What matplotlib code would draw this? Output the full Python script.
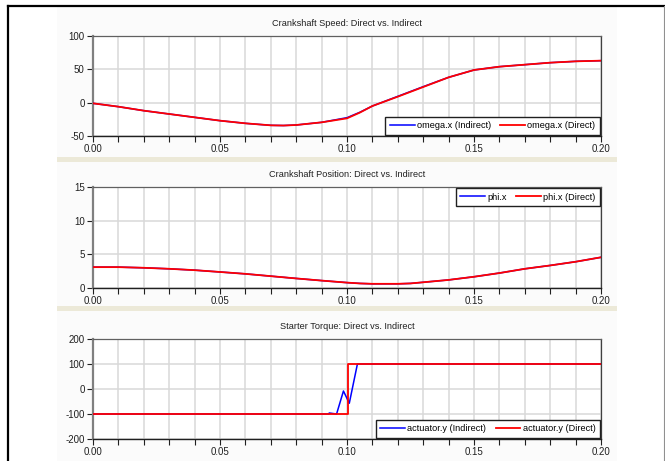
import matplotlib
matplotlib.use("Agg")
import matplotlib.pyplot as plt
from matplotlib.patches import Rectangle
from matplotlib.lines import Line2D
import numpy as np

plt.rcParams['font.family'] = ['Liberation Sans', 'DejaVu Sans']
plt.rcParams['axes.unicode_minus'] = False

# ---------------- data ----------------
t_speed = [0.0, 0.01, 0.02, 0.03, 0.04, 0.05, 0.06, 0.07, 0.075, 0.08, 0.09, 0.10,
           0.105, 0.11, 0.12, 0.13, 0.14, 0.15, 0.16, 0.17, 0.18, 0.19, 0.20]
omega_direct = [-1, -6, -12, -17, -22, -27, -31, -34, -34.3, -33.5, -29.5, -23.5,
                -15, -5, 9, 23.5, 38, 49, 54, 57, 60, 62, 63]
omega_indirect = [-1, -6, -12, -17, -22, -27, -31, -34, -34.3, -33.5, -29.5, -22.5,
                  -14.5, -5, 9.5, 24, 38, 49, 54, 57, 60, 62, 63]

t_pos = [0.0, 0.01, 0.02, 0.03, 0.04, 0.05, 0.06, 0.07, 0.08, 0.09, 0.10, 0.105,
         0.11, 0.12, 0.125, 0.13, 0.14, 0.15, 0.16, 0.17, 0.18, 0.19, 0.20]
phi_direct = [3.1, 3.1, 3.0, 2.85, 2.65, 2.38, 2.1, 1.76, 1.42, 1.1, 0.8, 0.68,
              0.62, 0.62, 0.68, 0.85, 1.2, 1.67, 2.22, 2.85, 3.35, 3.9, 4.56]
phi_indirect = phi_direct

t_torque_direct = [0.0, 0.1003, 0.1003, 0.20]
torque_direct = [-100, -100, 100, 100]
t_torque_indirect = [0.0, 0.0929, 0.093, 0.0959, 0.0986, 0.1009, 0.1041, 0.20]
torque_indirect = [-100, -100, -96, -100, -8, -57, 100, 100]

xticks_major = [0.0, 0.05, 0.10, 0.15, 0.20]
xtick_labels = ["0.00", "0.05", "0.10", "0.15", "0.20"]

titles = ["Crankshaft Speed: Direct vs. Indirect",
          "Crankshaft Position: Direct vs. Indirect",
          "Starter Torque: Direct vs. Indirect"]
yticks = [[-50, 0, 50, 100], [0, 5, 10, 15], [-200, -100, 0, 100, 200]]
ylims = [(-50, 100), (0, 15), (-200, 200)]
labels = [("omega.x (Indirect)", "omega.x (Direct)"),
          ("phi.x", "phi.x (Direct)"),
          ("actuator.y (Indirect)", "actuator.y (Direct)")]

# ---------------- figure ----------------
W, H = 665, 461
fig = plt.figure(figsize=(W / 100, H / 100), dpi=100)
fig.patch.set_facecolor('white')

def px(x0, y0, x1, y1):
    return [x0 / W, 1 - y1 / H, (x1 - x0) / W, (y1 - y0) / H]

# panel background & separators
fig.patches.append(Rectangle((57 / W, 0), (617 - 57) / W, 1 - 7 / H,
                             transform=fig.transFigure, facecolor='#FBFBFB',
                             edgecolor='none', zorder=-2))
for (y0, y1) in [(157, 162), (306, 311)]:
    fig.patches.append(Rectangle((57 / W, 1 - y1 / H), (617 - 57) / W, (y1 - y0) / H,
                                 transform=fig.transFigure, facecolor='#ECE9D8',
                                 edgecolor='none', zorder=-1))
# outer frame
fig.lines.append(Line2D([7.5 / W, 7.5 / W], [0, 1 - 6.5 / H], transform=fig.transFigure,
                        color='black', lw=1.6))
fig.lines.append(Line2D([7.5 / W, 664 / W], [1 - 6.5 / H, 1 - 6.5 / H],
                        transform=fig.transFigure, color='black', lw=1.6))
fig.lines.append(Line2D([664 / W, 664 / W], [0, 1 - 6.5 / H], transform=fig.transFigure,
                        color='#909090', lw=0.8))

axes_px = [(93, 36, 601, 136), (93, 187, 601, 288), (93, 339, 601, 439)]
series = [
    ((t_speed, omega_indirect), (t_speed, omega_direct)),
    ((t_pos, phi_indirect), (t_pos, phi_direct)),
    ((t_torque_indirect, torque_indirect), (t_torque_direct, torque_direct)),
]
leg_loc = ['lower right', 'upper right', 'lower right']

for i, box in enumerate(axes_px):
    ax = fig.add_axes(px(*box))
    ax.set_facecolor('white')
    (ti, yi), (td, yd) = series[i]
    ax.plot(ti, yi, color='#0000FF', lw=1.1, label=labels[i][0], zorder=3)
    ax.plot(td, yd, color='#FF0000', lw=1.3, label=labels[i][1], zorder=4)
    ax.set_xlim(0, 0.2)
    ax.set_ylim(*ylims[i])
    ax.set_xticks(np.arange(0, 0.2001, 0.01), minor=True)
    ax.set_xticks(xticks_major)
    ax.set_xticklabels(xtick_labels)
    ax.set_yticks(yticks[i])
    ax.grid(True, which='both', axis='x', color='#D8D8D8', lw=1.1)
    ax.grid(True, which='major', axis='y', color='#D8D8D8', lw=1.1)
    ax.set_axisbelow(True)
    ax.tick_params(axis='both', which='both', labelsize=7, colors='#202020',
                   length=4, width=0.8, pad=2)
    ax.tick_params(axis='x', which='both', pad=1.5)
    ax.spines['left'].set_color('#808080')
    ax.spines['left'].set_linewidth(1.6)
    ax.spines['bottom'].set_color('#202020')
    ax.spines['bottom'].set_linewidth(1.0)
    ax.spines['top'].set_color('#606060')
    ax.spines['top'].set_linewidth(0.9)
    ax.spines['right'].set_color('#404040')
    ax.spines['right'].set_linewidth(0.9)
    ax.set_title(titles[i], fontsize=6.6, color='#202020', pad=7.5)
    leg = ax.legend(loc=leg_loc[i], ncol=2, fontsize=6.6, frameon=True,
                    fancybox=False, framealpha=1, edgecolor='#202020',
                    borderaxespad=0.12, handlelength=2.7, handletextpad=0.25,
                    columnspacing=1.0, borderpad=0.5)
    leg.get_frame().set_linewidth(1.0)
    leg.set_zorder(10)

fig.savefig('out.png', dpi=100)
